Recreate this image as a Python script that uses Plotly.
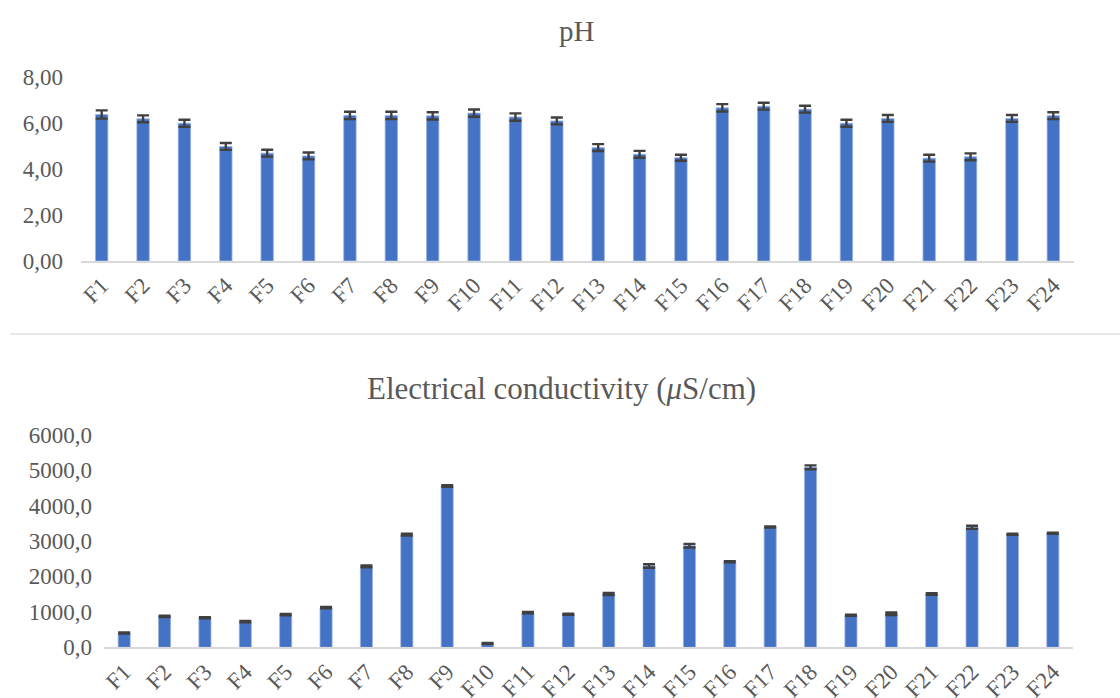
import plotly.graph_objects as go

# Sample sites
sites = [f"F{i}" for i in range(1, 25)]

# pH (mean and standard deviation)
ph_mean = [6.37, 6.18, 5.99, 4.98, 4.69, 4.57, 6.33, 6.33, 6.31, 6.43, 6.26, 6.09,
           4.93, 4.64, 4.49, 6.66, 6.73, 6.60, 5.99, 6.20, 4.47, 4.53, 6.20, 6.32]
ph_sd = [0.18, 0.15, 0.15, 0.15, 0.15, 0.15, 0.16, 0.16, 0.16, 0.16, 0.16, 0.15,
         0.15, 0.15, 0.13, 0.16, 0.15, 0.15, 0.15, 0.15, 0.15, 0.15, 0.15, 0.15]

# Electrical conductivity, µS/cm (mean and standard deviation)
ec_mean = [404, 875, 836, 723, 920, 1118, 2286, 3178, 4553, 113, 980, 931,
           1504, 2295, 2868, 2416, 3395, 5080, 903, 948, 1504, 3387, 3189, 3218]
ec_sd = [15, 20, 15, 20, 20, 20, 25, 25, 20, 12, 20, 15,
         30, 50, 50, 15, 15, 55, 15, 35, 20, 45, 15, 15]

ph_ticks = [0, 2, 4, 6, 8]
ph_ticktext = ["0,00", "2,00", "4,00", "6,00", "8,00"]
ec_ticks = [0, 1000, 2000, 3000, 4000, 5000, 6000]
ec_ticktext = ["0,0", "1000,0", "2000,0", "3000,0", "4000,0", "5000,0", "6000,0"]

W, H = 1120, 698
FONT = "Liberation Serif"
GREY = "#595959"
BAR = "#4472C4"
ERR = "#404040"


def px_x(p):
    return p / W


def px_y(p):
    return (H - p) / H


fig = go.Figure()

fig.add_trace(go.Bar(
    x=sites, y=ph_mean, width=0.3,
    marker=dict(color=BAR, line=dict(color="#9DB5E3", width=0.8)),
    error_y=dict(type="data", array=ph_sd, color=ERR, thickness=2.4, width=6),
    xaxis="x", yaxis="y", showlegend=False,
))
fig.add_trace(go.Bar(
    x=sites, y=ec_mean, width=0.3,
    marker=dict(color=BAR, line=dict(color="#9DB5E3", width=0.8)),
    error_y=dict(type="data", array=ec_sd, color=ERR, thickness=2.4, width=6),
    xaxis="x2", yaxis="y2", showlegend=False,
))

xcommon = dict(
    showline=True, linecolor="#D9D9D9", linewidth=2, ticks="",
    showgrid=False, zeroline=False, tickangle=-45, automargin=False,
    tickfont=dict(family=FONT, size=23, color=GREY),
)
ycommon = dict(
    showline=False, ticks="", showgrid=False, zeroline=False, automargin=False,
    tickfont=dict(family=FONT, size=23, color=GREY),
)

fig.update_layout(
    width=W, height=H,
    margin=dict(l=0, r=0, t=0, b=0, autoexpand=False),
    paper_bgcolor="white", plot_bgcolor="white",
    xaxis=dict(domain=[px_x(81), px_x(1074)], anchor="y", **xcommon),
    yaxis=dict(domain=[px_y(261), px_y(77)], anchor="x", range=[0, 8],
               tickvals=ph_ticks, ticktext=ph_ticktext,
               ticklabelstandoff=17, **ycommon),
    xaxis2=dict(domain=[px_x(104), px_x(1073)], anchor="y2", **xcommon),
    yaxis2=dict(domain=[px_y(647.3), px_y(434.7)], anchor="x2", range=[0, 6000],
                tickvals=ec_ticks, ticktext=ec_ticktext,
                ticklabelstandoff=11, **ycommon),
    annotations=[
        dict(text="pH", x=px_x(577), y=px_y(31), xref="paper", yref="paper",
             xanchor="center", yanchor="middle", showarrow=False,
             font=dict(family=FONT, size=29, color=GREY)),
        dict(text="Electrical conductivity (<i>μ</i>S/cm)", x=px_x(561), y=px_y(388),
             xref="paper", yref="paper", xanchor="center", yanchor="middle",
             showarrow=False, font=dict(family=FONT, size=31, color=GREY)),
    ],
    shapes=[
        dict(type="line", xref="paper", yref="paper",
             x0=px_x(10), x1=1.0, y0=px_y(334), y1=px_y(334),
             line=dict(color="#D0D0D0", width=1.2)),
    ],
)

fig.write_html("out.html")
